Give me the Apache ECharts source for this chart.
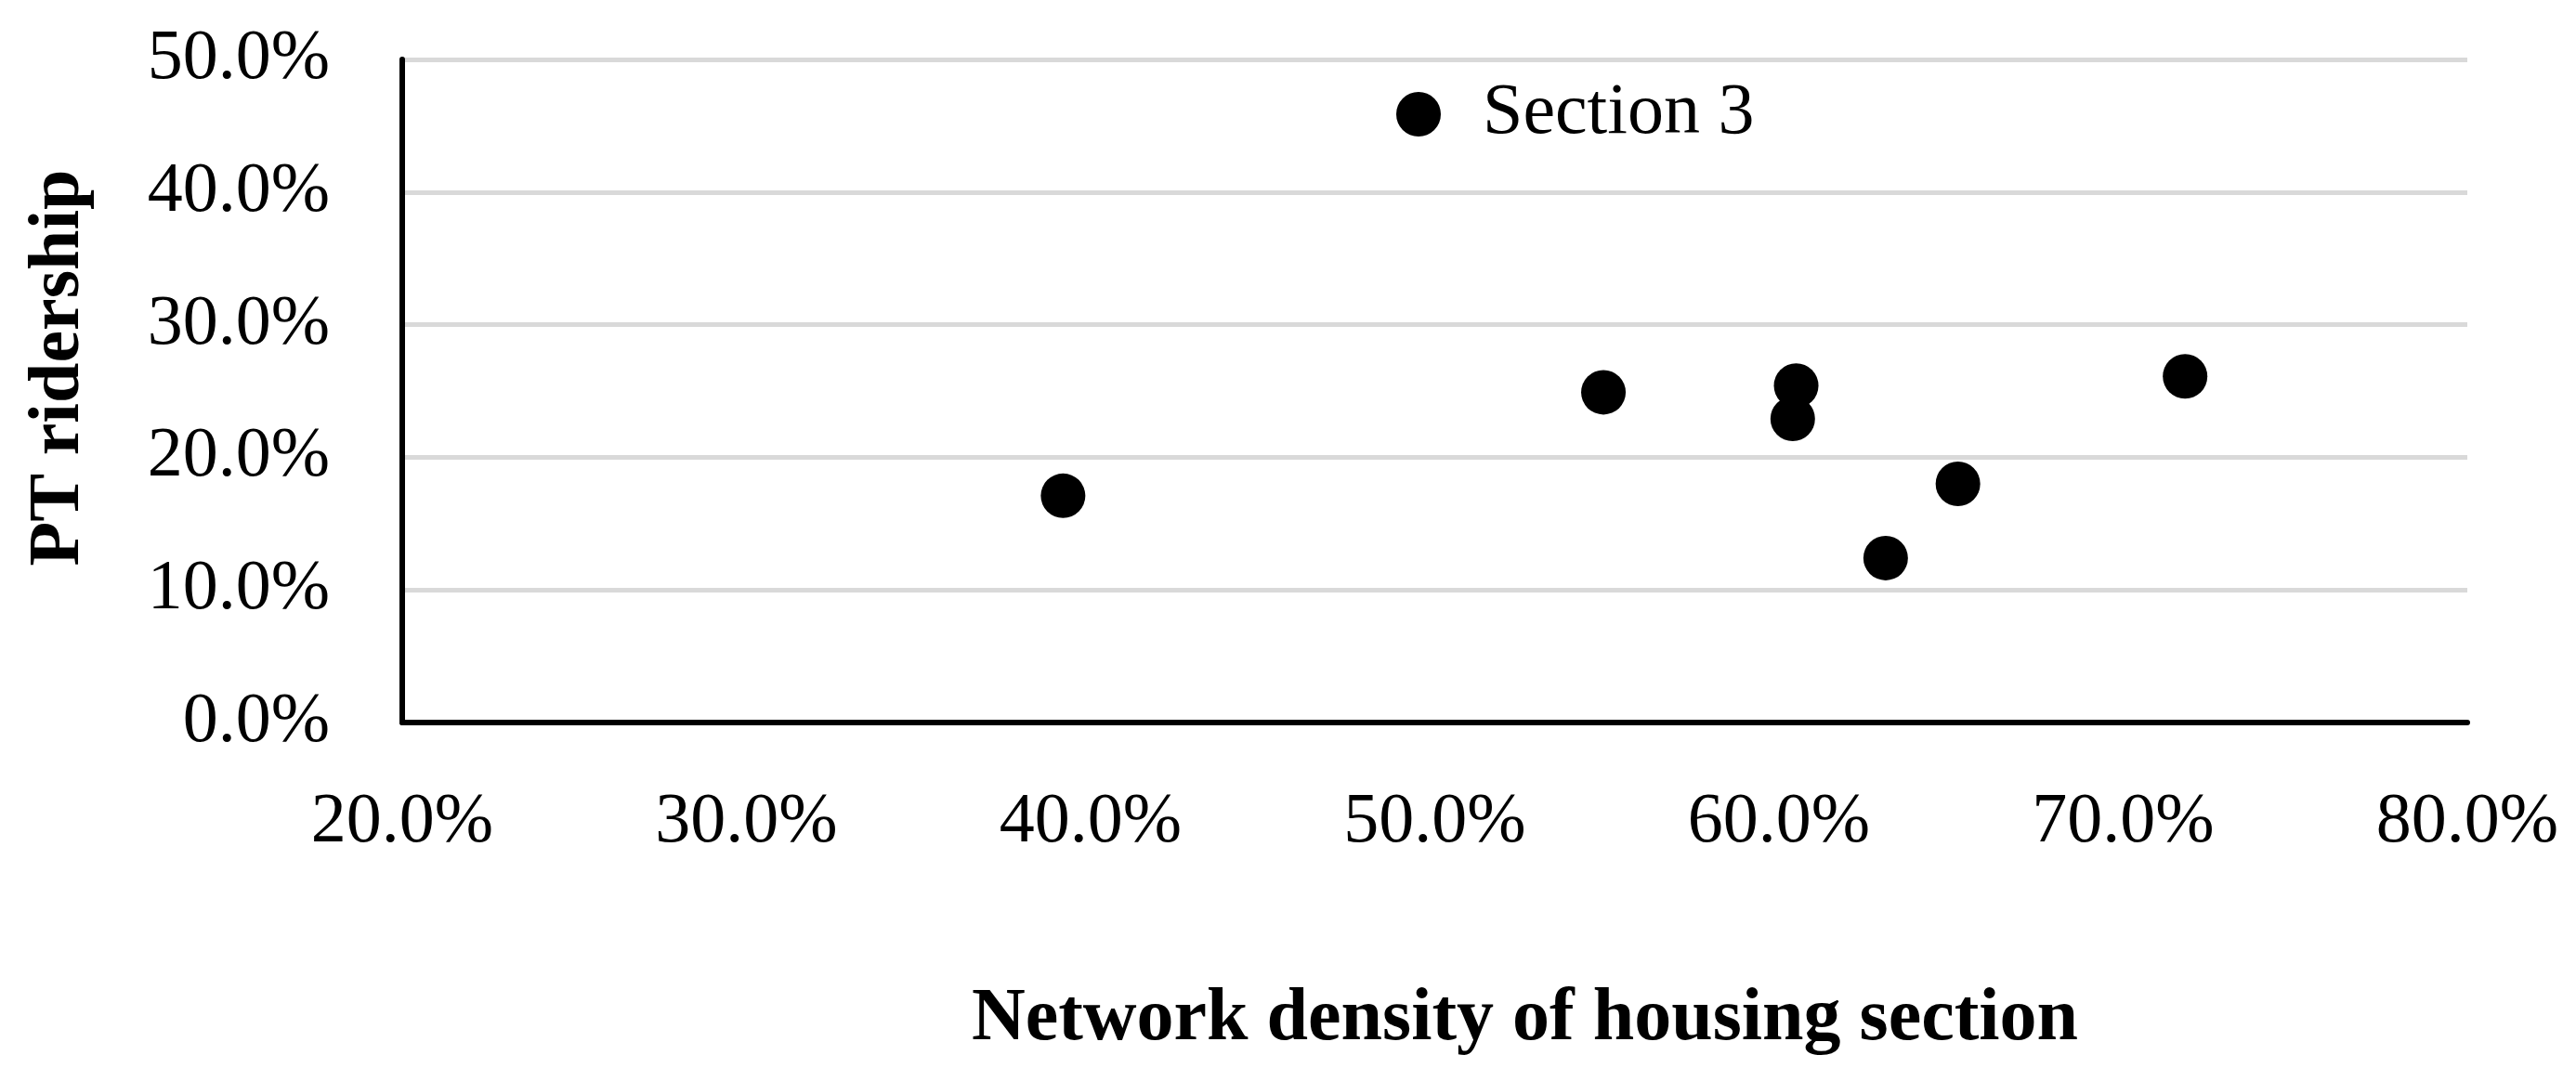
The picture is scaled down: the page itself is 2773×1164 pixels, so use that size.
<!DOCTYPE html>
<html>
<head>
<meta charset="utf-8">
<script src="https://cdn.jsdelivr.net/npm/echarts@6/dist/echarts.min.js"></script>
<style>
html,body{margin:0;padding:0;background:#fff;}
#chart{width:2773px;height:1164px;}
</style>
</head>
<body>
<div id="chart"></div>
<script>
// Network density of housing section (%)
var networkDensity = [39.2, 54.9, 60.5, 60.4, 63.1, 65.2, 71.8];
// PT ridership (%)
var ptRidership = [17.1, 24.9, 25.4, 22.9, 12.4, 18.0, 26.1];
var seriesName = 'Section 3';
var xAxisTitle = 'Network density of housing section';
var yAxisTitle = 'PT ridership';

var points = networkDensity.map(function (x, i) { return [x, ptRidership[i]]; });
var FONT = '"Liberation Serif", "Times New Roman", serif';

var chart = echarts.init(document.getElementById('chart'));
chart.setOption({
  animation: false,
  backgroundColor: '#ffffff',
  grid: { left: 433, right: 117, top: 64, bottom: 386, containLabel: false },
  legend: {
    data: [{ name: seriesName, icon: 'circle' }],
    left: 1503,
    top: 84,
    padding: 0,
    itemWidth: 48,
    itemHeight: 48,
    textStyle: { fontFamily: FONT, fontSize: 78, color: '#000', padding: [0, 0, 0, 40], lineHeight: 48 }
  },
  xAxis: {
    type: 'value',
    min: 20, max: 80, interval: 10,
    name: xAxisTitle,
    nameLocation: 'middle',
    nameGap: 280,
    nameTextStyle: { fontFamily: FONT, fontSize: 80, fontWeight: 'bold', color: '#000', padding: [0, 0, 0, 194] },
    axisLine: { show: true, onZero: false, lineStyle: { color: '#000', width: 6 } },
    axisTick: { show: false },
    splitLine: { show: false },
    axisLabel: {
      margin: 70,
      fontFamily: FONT, fontSize: 76, color: '#000',
      formatter: function (v) { return v.toFixed(1) + '%'; }
    }
  },
  yAxis: {
    type: 'value',
    min: 0, max: 50, interval: 10,
    name: yAxisTitle,
    nameLocation: 'middle',
    nameGap: 330,
    nameTextStyle: { fontFamily: FONT, fontSize: 78, fontWeight: 'bold', color: '#000', padding: [0, 0, 0, 50] },
    axisLine: { show: true, lineStyle: { color: '#000', width: 6 } },
    axisTick: { show: false },
    splitLine: { show: true, lineStyle: { color: '#d9d9d9', width: 5 } },
    axisLabel: {
      margin: 78,
      fontFamily: FONT, fontSize: 76, color: '#000',
      formatter: function (v) { return v.toFixed(1) + '%'; }
    }
  },
  series: [{
    name: seriesName,
    type: 'scatter',
    symbol: 'circle',
    symbolSize: 48,
    itemStyle: { color: '#000', opacity: 1 },
    data: points,
    z: 5
  }]
});
</script>
</body>
</html>
